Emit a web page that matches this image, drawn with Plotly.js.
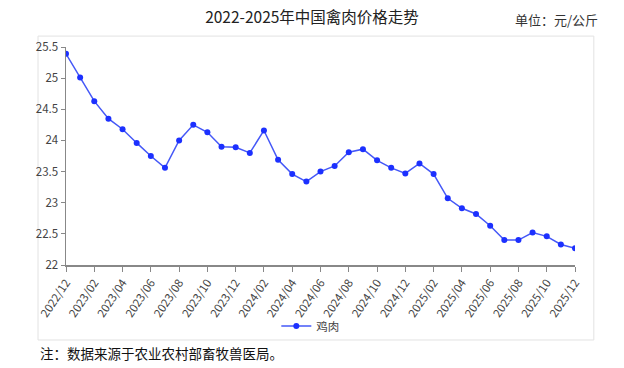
<!DOCTYPE html>
<html><head><meta charset="utf-8">
<script src="https://cdn.plot.ly/plotly-3.0.1.min.js"></script>
<style>html,body{margin:0;padding:0;background:#fff;}#c{width:624px;height:368px;}</style>
</head><body><div id="c"></div>
<script>
const months = ["2022/12","2023/01","2023/02","2023/03","2023/04","2023/05","2023/06","2023/07","2023/08","2023/09","2023/10","2023/11",
"2023/12","2024/01","2024/02","2024/03","2024/04","2024/05","2024/06","2024/07","2024/08","2024/09","2024/10","2024/11",
"2024/12","2025/01","2025/02","2025/03","2025/04","2025/05","2025/06","2025/07","2025/08","2025/09","2025/10","2025/11","2025/12"];
const chicken = [25.39,25.01,24.63,24.35,24.18,23.96,23.75,23.56,24.00,24.25,24.13,23.90,
23.89,23.80,24.16,23.69,23.46,23.34,23.50,23.59,23.81,23.86,23.68,23.56,
23.47,23.63,23.46,23.07,22.91,22.82,22.63,22.40,22.40,22.52,22.46,22.33,22.27];
const tickLabels = months.filter((m,i)=>i%2===0);
const yTicks = [22,22.5,23,23.5,24,24.5,25,25.5];
const font = "Noto Sans CJK SC, Noto Sans, sans-serif";

const data = [{
  x: months, y: chicken, type: 'scatter', mode: 'lines+markers', name: '鸡肉',
  line: {color: '#4558f7', width: 1.5},
  marker: {color: '#1c30ff', size: 6}
}];
const layout = {
  width: 624, height: 368,
  margin: {l: 66, r: 49, t: 47, b: 103},
  paper_bgcolor: '#fff', plot_bgcolor: '#fff',
  font: {family: font, color: '#444', size: 11},
  title: {text: '2022-2025年中国禽肉价格走势', x: 0.5, xref: 'container', y: 0.951, yref: 'container', yanchor: 'middle',
    font: {family: font, size: 15.5, color: '#222'}},
  xaxis: {type: 'category', range: [0, months.length-1], tickvals: tickLabels, ticktext: tickLabels,
    tickangle: -56, showgrid: false, zeroline: false, showline: true, linecolor: '#888', linewidth: 1.5,
    ticks: 'outside', ticklen: 5, tickcolor: '#888', tickfont: {size: 11.5, color: '#444'}},
  yaxis: {range: [22, 25.5], tickvals: yTicks, ticktext: yTicks.map(String), showgrid: false, zeroline: false,
    showline: true, linecolor: '#888', linewidth: 1.5, ticks: 'outside', ticklen: 4, tickcolor: '#888',
    tickfont: {size: 11.5, color: '#444'}},
  showlegend: true,
  legend: {orientation: 'h', x: 0.48, xanchor: 'center', y: -0.28, yanchor: 'middle', bgcolor: 'rgba(0,0,0,0)',
    font: {size: 11.5, color: '#444'}, itemwidth: 30},
  shapes: [{type: 'rect', xref: 'paper', yref: 'paper', x0: -0.055, x1: 1.037, y0: -0.344, y1: 1.050,
    line: {color: '#e2e2e2', width: 1}, fillcolor: 'rgba(0,0,0,0)', layer: 'below'}],
  annotations: [
    {text: '单位：元/公斤', xref: 'paper', yref: 'paper', x: 1.049, y: 1.128, xanchor: 'right', yanchor: 'middle',
      showarrow: false, font: {family: font, size: 13, color: '#333'}},
    {text: '注：数据来源于农业农村部畜牧兽医局。', xref: 'paper', yref: 'paper', x: -0.055, y: -0.404, xanchor: 'left', yanchor: 'middle',
      showarrow: false, font: {family: font, size: 13.5, color: '#111'}}
  ]
};
Plotly.newPlot('c', data, layout, {staticPlot: true, displayModeBar: false});
</script></body></html>
